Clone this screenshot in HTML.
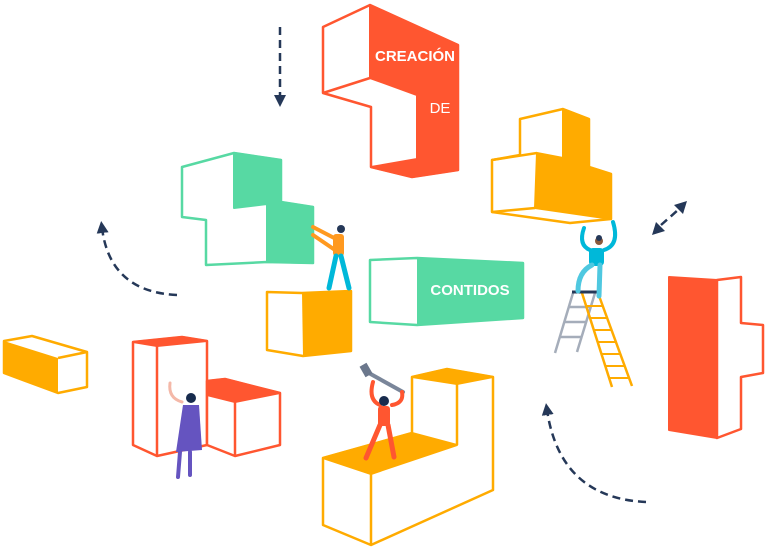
<!DOCTYPE html>
<html><head><meta charset="utf-8"><style>
html,body{margin:0;padding:0;background:#fff;}
svg{display:block;}
text{font-family:"Liberation Sans",sans-serif;fill:#fff;}
</style></head><body>
<svg width="768" height="551" viewBox="0 0 768 551" xmlns="http://www.w3.org/2000/svg">
<defs>
<marker id="ah" markerWidth="12" markerHeight="12" refX="5" refY="6" orient="auto" markerUnits="userSpaceOnUse"><path d="M0,0 L12,6 L0,12 Z" fill="#253858"/></marker>
</defs>
<g stroke-linejoin="round">
<polygon points="370,5 323,27 323,93 371,107 371,167 412,177 458,170 458,45" fill="#fff" stroke="#ff5630" stroke-width="2.5"/>
<polygon points="370,5 458,45 458,170 412,177 371,167 417,159 417,95 370,78" fill="#ff5630" stroke="#ff5630" stroke-width="2"/>
<line x1="323" y1="93" x2="370" y2="78" stroke="#ff5630" stroke-width="2.5"/>

<polygon points="182,167 234,153 281,160 281,202 313,207 313,263 267,262 206,265 206,220 182,217" fill="#fff" stroke="#57d9a3" stroke-width="2.5"/>
<polygon points="234,153 281,160 281,202 313,207 313,263 267,262 267,204 234,208" fill="#57d9a3" stroke="#57d9a3" stroke-width="2"/>

<polygon points="520,119 563,109 589,119 589,167 611,174 611,219 570,223 492,212 492,160 520,155" fill="#fff" stroke="#ffab00" stroke-width="2.5"/>
<polygon points="563,109 589,119 589,167 611,174 611,219 535,208 537,153 563,158" fill="#ffab00" stroke="#ffab00" stroke-width="2"/>
<line x1="492" y1="160" x2="537" y2="153" stroke="#ffab00" stroke-width="2.5"/>
<line x1="492" y1="212" x2="535" y2="208" stroke="#ffab00" stroke-width="2.5"/>

<polygon points="370,260 417,258 523,263 523,318 417,325 370,322" fill="#fff" stroke="#57d9a3" stroke-width="2.5"/>
<polygon points="417,258 523,263 523,318 417,325" fill="#57d9a3"/>

<polygon points="267,292 302,293 351,291 351,351 303,356 267,350" fill="#fff" stroke="#ffab00" stroke-width="2.5"/>
<polygon points="302,293 351,291 351,351 303,356" fill="#ffab00"/>

<polygon points="717,280 741,277 741,323 763,325 763,373 741,377 741,429 717,438" fill="#fff" stroke="#ff5630" stroke-width="2.5"/>
<polygon points="669,277 717,280 717,438 669,430" fill="#ff5630" stroke="#ff5630" stroke-width="2"/>

<polygon points="4,341 32,336 87,352 87,387 58,393 4,373" fill="#fff" stroke="#ffab00" stroke-width="2.5"/>
<polygon points="4,341 58,358 58,393 4,373" fill="#ffab00"/>
<line x1="58" y1="358" x2="87" y2="352" stroke="#ffab00" stroke-width="2.5"/>

<polygon points="133,342 182,337 207,341 207,445 157,456 133,445" fill="#fff" stroke="#ff5630" stroke-width="2.5"/>
<polygon points="133,342 182,337 207,341 157,346" fill="#ff5630" stroke="#ff5630" stroke-width="2"/>
<line x1="157" y1="346" x2="157" y2="456" stroke="#ff5630" stroke-width="2.5"/>
<polygon points="207,381 225,379 280,393 280,445 235,456 207,445" fill="#fff" stroke="#ff5630" stroke-width="2.5"/>
<polygon points="207,381 225,379 280,393 235,402 207,395" fill="#ff5630" stroke="#ff5630" stroke-width="2"/>
<line x1="235" y1="402" x2="235" y2="456" stroke="#ff5630" stroke-width="2.5"/>

<polygon points="323,458 412,433 412,377 447,369 493,377 493,490 371,545 323,525" fill="#fff" stroke="#ffab00" stroke-width="2.5"/>
<polygon points="323,458 412,433 457,445 371,474" fill="#ffab00" stroke="#ffab00" stroke-width="2"/>
<polygon points="412,377 447,369 493,377 457,384" fill="#ffab00" stroke="#ffab00" stroke-width="2"/>
<polyline points="371,474 371,545" fill="none" stroke="#ffab00" stroke-width="2.5"/>
<polyline points="457,384 457,445" fill="none" stroke="#ffab00" stroke-width="2.5"/>
</g>

<text x="415" y="61" font-size="15" font-weight="bold" text-anchor="middle">CREACIÓN</text>
<text x="440" y="113" font-size="15" text-anchor="middle">DE</text>
<text x="470" y="295" font-size="15" font-weight="bold" text-anchor="middle">CONTIDOS</text>

<g fill="none" stroke="#253858" stroke-width="2.5" stroke-dasharray="8,5">
<line x1="280" y1="27" x2="280" y2="100" marker-end="url(#ah)"/>
<path d="M177,295 Q110,292 102,228" marker-end="url(#ah)"/>
<path d="M646,502 Q560,498 547,410" marker-end="url(#ah)"/>
<line x1="661" y1="225" x2="678" y2="210"/>
</g>
<polygon points="652,235 656,222 665,231" fill="#253858"/>
<polygon points="687,201 674,205 683,214" fill="#253858"/>

<g stroke-width="2.5" fill="none">
<line x1="573" y1="293" x2="555" y2="353" stroke="#a5adba"/>
<line x1="595" y1="293" x2="577" y2="352" stroke="#a5adba"/>
<line x1="569" y1="307" x2="591" y2="307" stroke="#a5adba"/>
<line x1="565" y1="322" x2="587" y2="322" stroke="#a5adba"/>
<line x1="560" y1="337" x2="582" y2="337" stroke="#a5adba"/>
<line x1="582" y1="293" x2="612" y2="387" stroke="#ffab00"/>
<line x1="598" y1="293" x2="632" y2="386" stroke="#ffab00"/>
<g stroke="#ffab00" stroke-width="2">
<line x1="586" y1="306" x2="603" y2="306"/><line x1="590" y1="318" x2="607" y2="318"/>
<line x1="594" y1="330" x2="611" y2="330"/><line x1="598" y1="342" x2="615" y2="342"/>
<line x1="601" y1="354" x2="620" y2="354"/><line x1="605" y1="366" x2="624" y2="366"/>
<line x1="609" y1="378" x2="628" y2="378"/>
</g>
<line x1="572" y1="292" x2="600" y2="292" stroke="#253858" stroke-width="3"/>
</g>

<g stroke-linecap="round">
<path d="M584,228 Q578,245 590,250 M613,222 Q620,245 604,250" stroke="#00b8d9" stroke-width="4" fill="none"/>
<rect x="589" y="248" width="15" height="18" rx="4" fill="#00b8d9"/>
<path d="M592,265 Q578,272 578,291 M600,265 L599,296" stroke="#4fc8e0" stroke-width="5" fill="none"/>
<circle cx="599" cy="241" r="4" fill="#8b5a3c"/>
<circle cx="599" cy="238" r="3" fill="#253858"/>
</g>

<g stroke-linecap="round">
<path d="M313,227 L338,240 M313,235 L335,250" stroke="#ff991f" stroke-width="4" fill="none"/>
<rect x="333" y="234" width="11" height="22" rx="3" fill="#ff991f"/>
<circle cx="341" cy="229" r="4" fill="#253858"/>
<path d="M336,256 L329,288 M341,256 L349,288" stroke="#00b8d9" stroke-width="5" fill="none"/>
</g>

<g stroke-linecap="round">
<path d="M170,383 Q168,398 182,402" stroke="#f4b8a8" stroke-width="3" fill="none"/>
<circle cx="191" cy="398" r="5" fill="#172b4d"/>
<polygon points="183,405 199,405 202,450 176,452" fill="#6554c0"/>
<path d="M180,452 L178,477 M190,452 L190,475" stroke="#6554c0" stroke-width="4" fill="none"/>
</g>

<g stroke-linecap="round">
<line x1="367" y1="372" x2="403" y2="392" stroke="#7a869a" stroke-width="4"/>
<rect x="362" y="364" width="8" height="12" fill="#6b778c" transform="rotate(-30 366 370)"/>
<path d="M373,382 Q368,400 380,405 M402,392 Q404,403 392,405" stroke="#ff5630" stroke-width="4" fill="none"/>
<circle cx="384" cy="401" r="5" fill="#172b4d"/>
<rect x="378" y="406" width="12" height="20" rx="3" fill="#ff5630"/>
<path d="M380,425 L366,458 M388,425 L394,457" stroke="#ff5630" stroke-width="5" fill="none"/>
</g>
</svg>
</body></html>
